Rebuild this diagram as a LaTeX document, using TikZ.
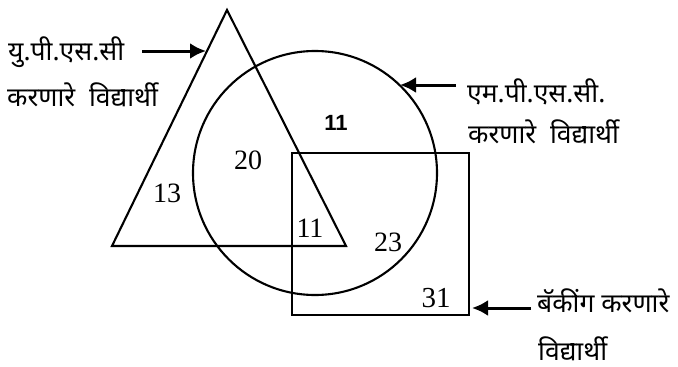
\documentclass[tikz,border=0pt]{standalone}
\usepackage{fontspec}
\setmainfont{Liberation Serif}
\newfontfamily\deva[Script=Devanagari]{Noto Sans}
\newfontfamily\sansnum{Liberation Sans}
\usetikzlibrary{arrows.meta}
\tikzset{
  setline/.style={line width=2.1pt},
  num/.style={font=\fontsize{28}{30}\selectfont, inner sep=0pt},
  marathi/.style={font=\deva\fontsize{26.5}{28}\selectfont, inner sep=0pt, anchor=west},
  pointer/.style={-{Latex[length=16pt,width=16pt]}, line width=3pt}
}
\begin{document}
\begin{tikzpicture}[x=1pt,y=-1pt]
\useasboundingbox (0,0) rectangle (678,367);
% the three sets
\draw[setline] (227,10) -- (346,246) -- (112,246) -- cycle;
\draw[setline] (315,173) circle (122pt);
\draw[setline] (292,153) rectangle (469,315);
% points where the pointers touch the sets
\coordinate (upstip) at (206,51);
\coordinate (mpstip) at (400,85);
\coordinate (banktip) at (472,308);
\coordinate (upstail) at (142,51);
\coordinate (mpstail) at (456,85);
\coordinate (banktail) at (531,308);
% counts in each region
\node[num] (only13) at (167,193) {13};
\node[num] (both20) at (248,160) {20};
\node[num] (all11) at (310,228) {11};
\node[num] (both23) at (388,242) {23};
\node[num, font=\fontsize{29}{31}\selectfont] (only31) at (436,298) {31};
\node[inner sep=0pt, font=\sansnum\bfseries\fontsize{22}{24}\selectfont] (top11) at (336,123) {11};
% labels
\node[marathi] (upsA) at (8,52) {यु.पी.एस.सी};
\node[marathi] (upsB) at (7,95) {करणारे\ \ विद्यार्थी};
\node[marathi] (mpsA) at (467,92) {एम.पी.एस.सी.};
\node[marathi] (mpsB) at (468,132) {करणारे\ \ विद्यार्थी};
\node[marathi] (bankA) at (537,301) {बॅकींग करणारे};
\node[marathi] (bankB) at (538,349) {विद्यार्थी};
% pointers
\draw[pointer] (upstail) -- (upstip);
\draw[pointer] (mpstail) -- (mpstip);
\draw[pointer] (banktail) -- (banktip);
\end{tikzpicture}
\end{document}
